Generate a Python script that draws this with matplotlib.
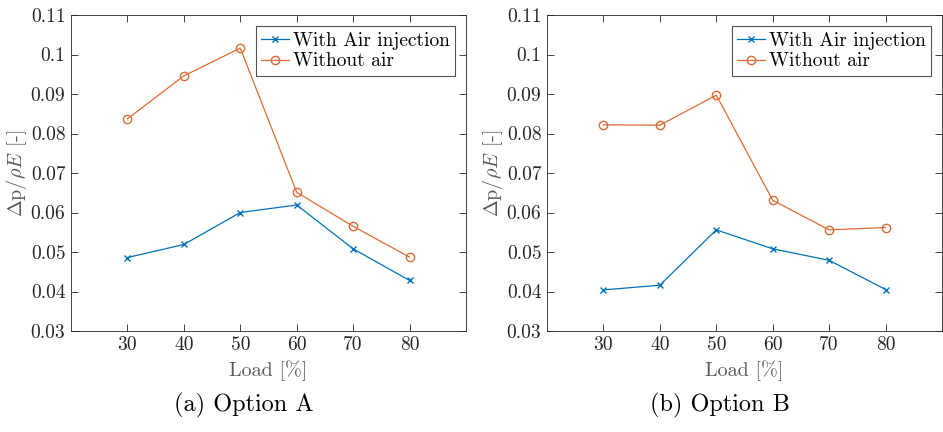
import matplotlib
matplotlib.use("Agg")
import matplotlib.pyplot as plt

plt.rcParams['font.family'] = 'serif'
plt.rcParams['font.serif'] = ['cmr10']
plt.rcParams['mathtext.fontset'] = 'cm'
plt.rcParams['axes.formatter.use_mathtext'] = True

load = [30, 40, 50, 60, 70, 80]
a_with_air = [0.0486, 0.0519, 0.0600, 0.0619, 0.0508, 0.0428]
a_without_air = [0.0837, 0.0946, 0.1016, 0.0651, 0.0565, 0.0487]
b_with_air = [0.0404, 0.0416, 0.0556, 0.0508, 0.0479, 0.0405]
b_without_air = [0.0822, 0.0821, 0.0897, 0.0631, 0.0556, 0.0562]
yticks = [0.03, 0.04, 0.05, 0.06, 0.07, 0.08, 0.09, 0.1, 0.11]
ytick_labels = ['0.03', '0.04', '0.05', '0.06', '0.07', '0.08', '0.09', '0.1', '0.11']
captions = ['(a) Option A', '(b) Option B']

blue = '#0072BD'
orange = '#DB6C33'
grey = '#5a5a5a'

W, H = 943, 432
fig = plt.figure(figsize=(W / 100, H / 100), dpi=100)

lefts = [71, 547]
for i, (wa, wo) in enumerate([(a_with_air, a_without_air), (b_with_air, b_without_air)]):
    ax = fig.add_axes([lefts[i] / W, (H - 331) / H, 395 / W, 316 / H])
    ax.plot(load, wa, color=blue, marker='x', markersize=5, linewidth=0.9,
            label='With Air injection')
    ax.plot(load, wo, color=orange, marker='o', markersize=6, markerfacecolor='none',
            linewidth=0.9, label='Without air')
    ax.set_xlim(20, 90)
    ax.set_ylim(0.03, 0.11)
    ax.set_xticks(load)
    ax.set_xticklabels([str(v) for v in load])
    ax.set_yticks(yticks)
    ax.set_yticklabels(ytick_labels)
    ax.tick_params(direction='in', top=True, right=True, labelsize=14, length=5,
                   width=0.6, colors='#262626', labelcolor='#262626', pad=4)
    for s in ax.spines.values():
        s.set_color('#262626')
        s.set_linewidth(0.6)
    ax.set_xlabel('Load [%]', fontsize=14.5, color=grey, labelpad=4.5)
    ax.set_ylabel(r'$\Delta$p$/\rho E$ [-]', fontsize=14.5, color=grey, labelpad=1)
    leg = ax.legend(loc='upper right', fontsize=14, frameon=True, fancybox=False,
                    edgecolor='#262626', borderpad=0.3, labelspacing=0.15,
                    handlelength=1.4, handletextpad=0.2, borderaxespad=0.55)
    leg.get_frame().set_linewidth(0.8)
    cx = (lefts[i] - 71 + 244) / W
    fig.text(cx, 1 - 405 / H, captions[i], ha='center', va='center', fontsize=17.5)

fig.savefig('out.png', dpi=100)
